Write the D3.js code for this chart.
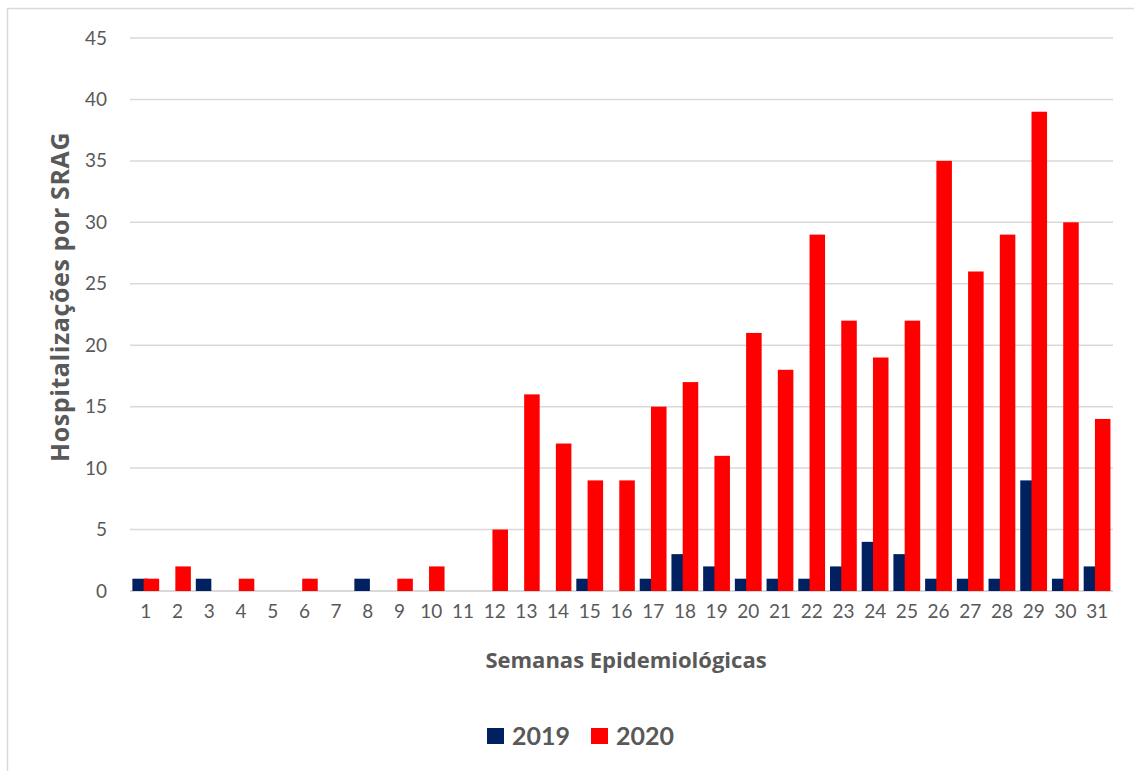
<!DOCTYPE html>
<html>
<head>
<meta charset="utf-8">
<script src="https://cdnjs.cloudflare.com/ajax/libs/d3/7.8.5/d3.min.js"></script>
<style>
  body { margin: 0; background: #fff; }
  svg text { font-family: Lato, 'Open Sans', sans-serif; fill: #595959; }
  svg text.title { font-family: 'Open Sans', Lato, sans-serif; }
</style>
</head>
<body>
<div id="chart"></div>
<script>
// chart data
var weeks = d3.range(1, 32).map(String);
var series = ['2019', '2020'];
var values2019 = [1, 0, 1, 0, 0, 0, 0, 1, 0, 0, 0, 0, 0, 0, 1, 0, 1, 3, 2, 1, 1, 1, 2, 4, 3, 1, 1, 1, 9, 1, 2];
var values2020 = [1, 2, 0, 1, 0, 1, 0, 0, 1, 2, 0, 5, 16, 12, 9, 9, 15, 17, 11, 21, 18, 29, 22, 19, 22, 35, 26, 29, 39, 30, 14];
var yTicks = [0, 5, 10, 15, 20, 25, 30, 35, 40, 45];
var colors = ['#002060', '#FF0000'];

var chart_width = 1134;
var chart_height = 771;

// plot area (excel-ish layout)
var plot = { left: 130, right: 1113, top: 38, bottom: 591 };

var svg = d3.select('#chart').append('svg')
  .attr('width', chart_width)
  .attr('height', chart_height);

// outer frame, right and bottom edges fall outside the picture
svg.append('rect')
  .attr('x', 7.5).attr('y', 8.5)
  .attr('width', chart_width + 20).attr('height', chart_height + 20)
  .attr('fill', 'none')
  .attr('stroke', '#d9d9d9')
  .attr('stroke-width', 1.5);

var x = d3.scaleBand()
  .domain(weeks)
  .range([plot.left, plot.right])
  .padding(0);

var y = d3.scaleLinear()
  .domain([0, 45])
  .range([plot.bottom, plot.top]);

// gridlines
svg.append('g').attr('id', 'grid')
  .selectAll('line')
  .data(yTicks)
  .enter()
  .append('line')
  .attr('x1', plot.left)
  .attr('x2', plot.right)
  .attr('y1', function(d) { return y(d); })
  .attr('y2', function(d) { return y(d); })
  .attr('stroke', '#d9d9d9')
  .attr('stroke-width', function(d) { return d === 0 ? 2 : 1.5; });

// y axis labels (no domain line, gridlines do the work)
var yAxis = svg.append('g')
  .attr('transform', 'translate(' + plot.left + ',0)')
  .call(d3.axisLeft(y).tickValues(yTicks).tickSize(0).tickPadding(23));
yAxis.select('.domain').remove();
yAxis.selectAll('text')
  .style('font-size', '19px')
  .attr('fill', '#595959');

// x axis labels
var xAxis = svg.append('g')
  .attr('transform', 'translate(0,' + plot.bottom + ')')
  .call(d3.axisBottom(x).tickSize(0).tickPadding(14));
xAxis.select('.domain').remove();
xAxis.selectAll('text')
  .style('font-size', '19px')
  .attr('fill', '#595959');

// bars: the 2020 bar overlaps the 2019 one a bit, like the excel original
var bw = x.bandwidth();
var barW = bw * 0.49;
var offsets = [bw * 0.075, bw * 0.43];
var allValues = [values2019, values2020];

series.forEach(function(s, i) {
  svg.append('g').attr('id', 'bars' + s)
    .selectAll('rect')
    .data(allValues[i])
    .enter()
    .append('rect')
    .attr('x', function(d, j) { return x(weeks[j]) + offsets[i]; })
    .attr('y', function(d) { return y(d); })
    .attr('width', barW)
    .attr('height', function(d) { return y(0) - y(d); })
    .attr('fill', colors[i]);
});

// axis titles
svg.append('text')
  .classed('title', true)
  .attr('transform', 'translate(69,297) rotate(-90)')
  .attr('text-anchor', 'middle')
  .style('font-size', '25px')
  .style('letter-spacing', '0.6px')
  .style('font-weight', 'bold')
  .text('Hospitalizações por SRAG');

svg.append('text')
  .classed('title', true)
  .attr('x', 626)
  .attr('y', 668)
  .attr('text-anchor', 'middle')
  .style('font-size', '22px')
  .style('font-weight', 'bold')
  .text('Semanas Epidemiológicas');

// legend
var legendX = [487, 591];
var legend = svg.append('g').attr('id', 'legend')
  .selectAll('g')
  .data(series)
  .enter()
  .append('g')
  .attr('transform', function(d, i) { return 'translate(' + legendX[i] + ',728)'; });

legend.append('rect')
  .attr('width', 17)
  .attr('height', 16)
  .attr('fill', function(d, i) { return colors[i]; });

legend.append('text')
  .attr('x', 25)
  .attr('y', 17)
  .style('font-size', '25px')
  .style('font-weight', 'bold')
  .text(function(d) { return d; });
</script>
</body>
</html>
